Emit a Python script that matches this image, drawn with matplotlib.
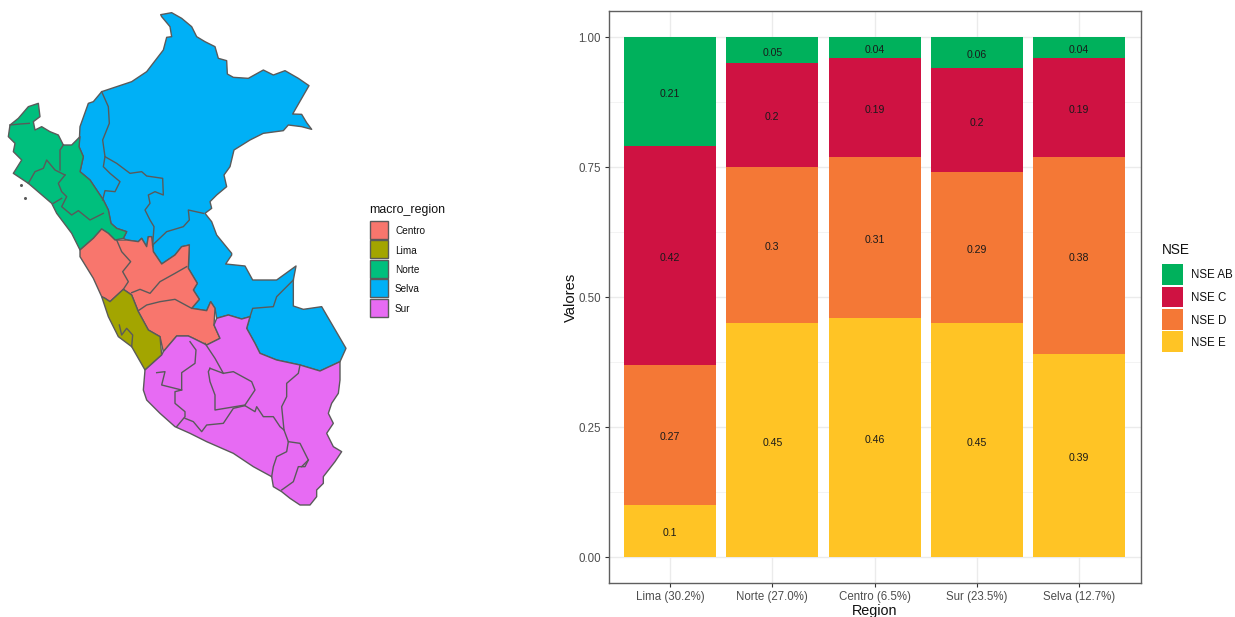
import matplotlib
matplotlib.use("Agg")
import matplotlib.pyplot as plt
from matplotlib.patches import Polygon, Rectangle
import numpy as np

plt.rcParams['font.family'] = ['Liberation Sans', 'DejaVu Sans']

# ---------- bar data ----------
regions = ["Lima (30.2%)", "Norte (27.0%)", "Centro (6.5%)", "Sur (23.5%)", "Selva (12.7%)"]
nse_e = [0.10, 0.45, 0.46, 0.45, 0.39]
nse_d = [0.27, 0.30, 0.31, 0.29, 0.38]
nse_c = [0.42, 0.20, 0.19, 0.20, 0.19]
nse_ab = [0.21, 0.05, 0.04, 0.06, 0.04]
nse_names = ["NSE AB", "NSE C", "NSE D", "NSE E"]
nse_colors = ["#00B15C", "#CF1242", "#F47836", "#FFC425"]

macro_names = ["Centro", "Lima", "Norte", "Selva", "Sur"]
macro_colors = ["#F8766D", "#A3A500", "#00BF7D", "#00B0F6", "#E76BF3"]

# ---------- map outlines (crop a = north, crop b = south) ----------
selva_a1 = [(482,44),(515,38),(545,55),(575,80),(590,110),(615,125),(645,140),(655,175),(680,182),(682,222),
            (700,232),(745,235),(790,210),(820,225),(855,212),(895,235),(927,257),(878,342),(905,343),(920,368),
            (935,388),(905,380),(865,375),(850,392),(790,400),(750,420),(702,450),(690,500),(672,525),(680,560),
            (650,585),(630,605),(635,625),(615,640),(635,665),(650,705),(695,760)]
selva_b = [(515,45),(497,72),(555,78),(578,120),(650,120),(708,78),(700,120),(700,198),(730,208),(785,200),
           (858,325),(840,365),(780,393),(720,375),(650,360),(600,340),(585,310),(560,265),(570,230),(545,237),
           (505,225),(470,235),(465,205),(452,185),(440,212),(395,205),(418,178),(400,150),(412,130),(385,85),
           (388,15),(365,20),(345,45),(305,72),(280,35),(275,0)]
selva_a2 = [(458,740),(455,710),(445,710),(440,740),(425,715),(415,725),(380,720),(370,715),(380,695),(350,685),
            (333,670),(325,630),(310,600),(290,570),(270,540),(240,515),(250,470),(237,440),(240,380),(265,310),
            (280,305),(305,275),(395,245),(440,215),(490,150),(500,112),(515,110),(510,80),(485,50)]
norte_a = [(240,410),(237,440),(250,470),(240,515),(270,540),(290,570),(310,600),(325,630),(333,670),(350,685),
           (380,695),(370,715),(345,720),(325,700),(305,687),(280,715),(240,750),(215,700),(170,640),(155,610),
           (120,580),(85,550),(40,520),(65,480),(40,455),(45,430),(25,410),(30,375),(55,355),(85,320),(115,310),
           (120,350),(100,365),(105,390),(125,380),(150,395),(175,405),(190,435),(215,435)]
centro_b = [(60,30),(100,-5),(125,-33),(145,-20),(165,0),(200,0),(235,5),(245,-5),(260,20),(265,-10),(275,-10),
            (280,35),(305,72),(345,45),(365,20),(388,15),(385,85),(412,130),(400,150),(418,178),(395,205),(440,212),
            (452,185),(465,205),(462,255),(480,295),(440,315),(400,295),(385,288),(350,288),(310,335),(300,290),
            (265,270),(235,215),(215,165),(190,148),(150,185),(135,175),(125,170),(100,115),(60,50)]
lima_b = [(125,170),(135,175),(150,185),(190,148),(215,165),(235,215),(265,270),(300,290),(305,345),(255,390),
          (215,320),(175,290),(145,230)]
sur_b = [(470,235),(505,225),(545,237),(570,230),(560,265),(585,310),(600,340),(650,360),(720,375),(780,393),
         (840,365),(840,420),(835,460),(815,490),(805,520),(820,550),(800,580),(820,620),(845,635),(825,665),
         (790,710),(790,730),(770,750),(770,770),(750,795),(720,795),(690,775),(665,755),(640,740),(635,710),
         (580,680),(520,640),(440,605),(390,580),(345,560),(300,520),(260,480),(250,450),(255,390),(305,345),
         (310,335),(350,288),(385,288),(400,295),(440,315),(480,295),(462,255)]

borders_a = [
    [(305,275),(325,320),(328,370),(308,420),(315,470),(310,500),(330,520),(360,545),(345,575),(315,572),(308,600)],
    [(315,470),(350,490),(390,520),(425,515),(440,528),(488,535),(490,585),(465,575),(445,585),(450,610),(435,630),
     (450,660),(462,680),(458,735)],
    [(458,735),(500,695),(550,680),(568,660),(565,630),(610,640)],
    [(30,375),(60,372),(88,370)],
    [(85,550),(105,515),(130,505),(140,480),(165,510),(195,525)],
    [(180,510),(180,450),(190,435)],
    [(195,525),(175,550),(185,575),(200,590),(185,620),(215,645),(235,632),(270,660),(310,640)],
    [(185,595),(160,610)],
]
borders_b = [
    [(170,0),(185,35),(212,65),(188,95),(205,125),(190,148)],
    [(215,158),(240,148),(270,160),(300,125),(345,100),(380,80)],
    [(235,212),(260,195),(300,185),(345,178),(395,205)],
    [(290,398),(315,395),(305,435),(365,450),(365,398),(405,370),(408,330),(390,305)],
    [(365,450),(345,455),(345,490),(375,515),(375,530),(350,560)],
    [(375,535),(400,545),(425,575),(440,555),(490,550),(520,505),(555,497)],
    [(435,310),(465,355),(490,400)],
    [(450,385),(490,400),(520,395),(575,425),(585,450),(555,495),(465,510),(465,465),(450,425),(445,395),(450,385)],
    [(555,497),(585,515),(590,500),(610,530),(640,530),(660,560),(672,570)],
    [(720,375),(715,400),(680,430),(680,470),(665,500),(672,570),(685,605),(720,610),(745,660),(725,680)],
    [(685,605),(680,635),(650,650),(640,680),(635,710)],
    [(665,750),(700,725),(715,680),(735,680),(745,660)],
    [(178,255),(185,285),(200,265),(218,285),(215,320)],
    [(570,230),(578,205),(640,200),(650,170),(700,120)],
]

def from_a(pts):
    p = np.array(pts, float)
    return p / 3.0

def from_b(pts):
    p = np.array(pts, float)
    return p / 3.0 + np.array([60.0, 240.0])

W, H = 1235, 617
fig = plt.figure(figsize=(W / 100, H / 100), dpi=100, facecolor="white")

# full-figure pixel layer for map and legends
ov = fig.add_axes([0, 0, 1, 1])
ov.set_xlim(0, W)
ov.set_ylim(H, 0)
ov.axis("off")

OUT = "#5a5a5a"
shapes = [
    (np.vstack([from_a(selva_a1), from_b(selva_b), from_a(selva_a2)]), macro_colors[3]),
    (from_a(norte_a), macro_colors[2]),
    (from_b(centro_b), macro_colors[0]),
    (from_b(lima_b), macro_colors[1]),
    (from_b(sur_b), macro_colors[4]),
]
for pts, col in shapes:
    ov.add_patch(Polygon(pts, closed=True, facecolor=col, edgecolor=OUT, linewidth=1.0, joinstyle="round"))
for b in borders_a:
    p = from_a(b)
    ov.plot(p[:, 0], p[:, 1], color=OUT, lw=1.0)
for b in borders_b:
    p = from_b(b)
    ov.plot(p[:, 0], p[:, 1], color=OUT, lw=1.0)
for i in [(63, 555), (75, 595)]:
    p = from_a([i])
    ov.plot(p[:, 0], p[:, 1], "o", ms=1.2, color=OUT)

# map legend
ov.text(369, 209.5, "macro_region", fontsize=8.9, va="center", ha="left", color="#111111")
for name, col, y0 in zip(macro_names, macro_colors, [220.5, 240, 259.5, 279, 298.5]):
    ov.add_patch(Rectangle((370, y0), 18, 18, facecolor=col, edgecolor=OUT, linewidth=1.0))
    ov.text(395, y0 + 10.5, name, fontsize=7.2, va="center", ha="left", color="#111111")

# bar legend
ov.text(1162, 250.5, "NSE", fontsize=9.8, va="center", ha="left", color="#111111")
for name, col, y0 in zip(nse_names, nse_colors, [264, 286.5, 309, 331]):
    ov.add_patch(Rectangle((1162, y0), 21, 20.5, facecolor=col, edgecolor="none"))
    ov.text(1191, y0 + 11.5, name, fontsize=8.3, va="center", ha="left", color="#111111")

# ---------- stacked bars ----------
ax = fig.add_axes([608.7 / W, 1 - 583 / H, (1140.5 - 608.7) / W, (583 - 11) / H])
x = np.arange(1, 6)
ax.set_xlim(0.4, 5.6)
ax.set_ylim(-0.05, 1.05)
ax.set_axisbelow(True)
ax.set_yticks([0, 0.25, 0.5, 0.75, 1.0])
ax.set_yticklabels(["0.00", "0.25", "0.50", "0.75", "1.00"])
ax.set_yticks([0.125, 0.375, 0.625, 0.875], minor=True)
ax.set_xticks(x)
ax.set_xticklabels(regions)
ax.grid(True, which="major", color="#ebebeb", lw=1.0)
ax.grid(True, which="minor", axis="y", color="#f1f1f1", lw=0.6)
ax.tick_params(axis="both", which="major", labelsize=8.3, labelcolor="#4d4d4d", color="#333333",
               length=3, width=0.8, pad=2.5)
ax.tick_params(axis="y", which="minor", length=0)
for s in ax.spines.values():
    s.set_color("#5f5f5f")
    s.set_linewidth(1.0)

bottom = np.zeros(5)
for vals, col in zip([nse_e, nse_d, nse_c, nse_ab], [nse_colors[3], nse_colors[2], nse_colors[1], nse_colors[0]]):
    v = np.array(vals)
    ax.bar(x, v, width=0.9, bottom=bottom, color=col, edgecolor="none", zorder=2)
    for xi, b, val in zip(x, bottom, vals):
        ax.annotate(f"{val:g}", (xi, b + val / 2), xytext=(0, -1.8), textcoords="offset points",
                    ha="center", va="center", fontsize=7.6, color="#1a1a1a", zorder=3)
    bottom += v

ax.set_xlabel("Region", fontsize=10.4, color="#111111", labelpad=1.2)
ax.set_ylabel("Valores", fontsize=10.6, color="#111111", labelpad=0.5)

fig.savefig("out.png", dpi=100, facecolor="white")
